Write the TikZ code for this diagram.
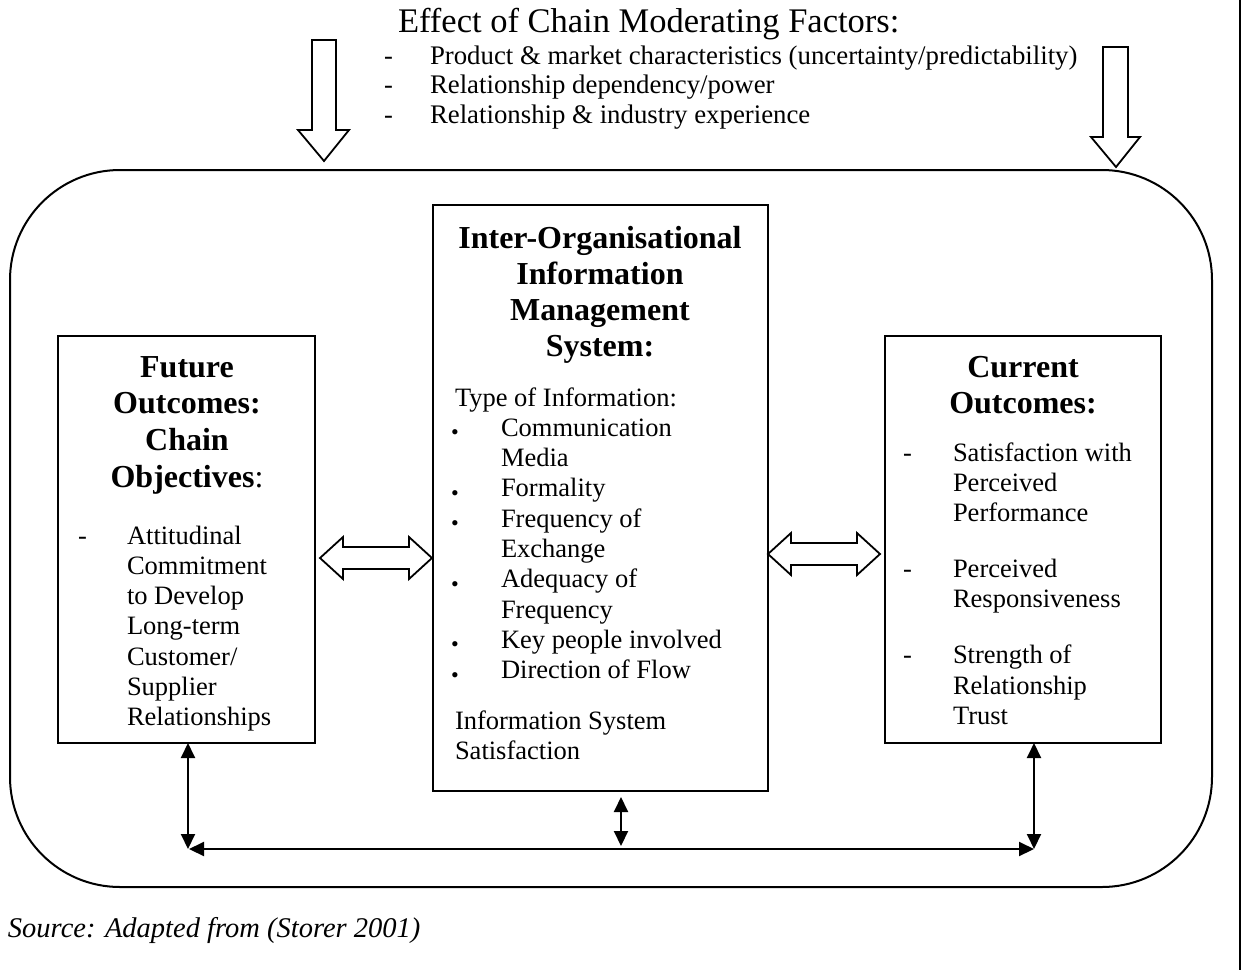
\documentclass[tikz,border=0pt]{standalone}
\usepackage{fontspec}
\setmainfont{Liberation Serif}
\usetikzlibrary{arrows.meta,calc}
\tikzset{
  box/.style={draw, line width=2pt, inner sep=0pt, outer sep=0pt},
  txt/.style={inner sep=0pt, outer sep=0pt, anchor=base west, font=\fontsize{26.5}{30}\selectfont},
  hd/.style={inner sep=0pt, outer sep=0pt, anchor=base, font=\fontsize{32}{36}\selectfont\bfseries},
  bul/.style={inner sep=0pt, outer sep=0pt, anchor=base west, font=\fontsize{22}{22}\selectfont},
  hollow/.style={draw, line width=1.8pt, fill=white, line join=miter},
  conn/.style={line width=2pt, {Triangle[length=15pt,width=14pt]}-{Triangle[length=15pt,width=14pt]}}
}
\begin{document}
\begin{tikzpicture}[x=1pt,y=-1pt]
\useasboundingbox (0,0) rectangle (1243,970);
% page frame line
\draw[line width=2.8pt] (1240,0) -- (1240,970);
% title block
\node[txt, font=\fontsize{34.5}{38}\selectfont] (title) at (398,32) {Effect of Chain Moderating Factors:};
\foreach \t [count=\i] in {{Product \& market characteristics (uncertainty/predictability)},{Relationship dependency/power},{Relationship \& industry experience}}{
  \node[txt] (td\i) at (384,{64+29.5*(\i-1)}) {-};
  \node[txt, font=\fontsize{26.8}{30}\selectfont] (tt\i) at (430,{64+29.5*(\i-1)}) {\t};
}
% outer rounded frame
\node[draw, line width=2pt, rounded corners=110pt, minimum width=1202pt, minimum height=717pt, inner sep=0pt] (frame) at (611,528.5) {};
% hollow down arrows
\draw[hollow] (312,40) -- (336,40) -- (336,130) -- (349,130) -- (324,161) -- (298,130) -- (312,130) -- cycle;
\draw[hollow] (1103,47) -- (1128,47) -- (1128,137) -- (1140,137) -- (1116,167) -- (1091,137) -- (1103,137) -- cycle;
% boxes
\node[box, minimum width=257pt, minimum height=407pt] (lbox) at (186.5,539.5) {};
\node[box, minimum width=335pt, minimum height=586pt] (cbox) at (600.5,498) {};
\node[box, minimum width=276pt, minimum height=407pt] (rbox) at (1023,539.5) {};
% left box text
\node[hd] (lh1) at (187,377) {Future};
\node[hd] (lh2) at (187,413.5) {Outcomes:};
\node[hd] (lh3) at (187,450) {Chain};
\node[hd] (lh4) at (187,487) {Objectives{\mdseries :}};
\node[txt] (ld) at (78,544) {-};
\foreach \t [count=\i] in {Attitudinal,Commitment,to Develop,Long-term,Customer/,Supplier,Relationships}{
  \node[txt] (l\i) at (127,{544+30.3*(\i-1)}) {\t};
}
% centre box text
\node[hd] (ch1) at (600,248) {Inter-Organisational};
\node[hd] (ch2) at (600,284) {Information};
\node[hd] (ch3) at (600,320) {Management};
\node[hd] (ch4) at (600,356) {System:};
\node[txt] (ct) at (455,406) {Type of Information:};
\foreach \t/\k [count=\i] in {Communication/1,Media/0,Formality/1,Frequency of/1,Exchange/0,Adequacy of/1,Frequency/0,Key people involved/1,Direction of Flow/1}{
  \node[txt] (c\i) at (501,{436+30.35*(\i-1)}) {\t};
  \ifnum\k=1 \node[bul] (b\i) at (451,{439.5+30.35*(\i-1)}) {•}; \fi
}
\node[txt] (cs1) at (455,729) {Information System};
\node[txt] (cs2) at (455,759) {Satisfaction};
% right box text
\node[hd] (rh1) at (1023,377) {Current};
\node[hd] (rh2) at (1023,413.5) {Outcomes:};
\foreach \t/\y in {Satisfaction with/461,Perceived/491,Performance/521,Perceived/577,Responsiveness/607,Strength of/663,Relationship/694,Trust/724}{
  \node[txt] (r\y) at (953,\y) {\t};
}
\node[txt] (rd1) at (903,461) {-};
\node[txt] (rd2) at (903,577) {-};
\node[txt] (rd3) at (903,663) {-};
% hollow double arrows
\draw[hollow] (320,558) -- (343,537) -- (343,547) -- (409,547) -- (409,537) -- (432,558) -- (409,579) -- (409,569) -- (343,569) -- (343,579) -- cycle;
\draw[hollow] (768,554) -- (791,533) -- (791,543) -- (857,543) -- (857,533) -- (880,554) -- (857,575) -- (857,565) -- (791,565) -- (791,575) -- cycle;
% bottom connectors
\coordinate (bl) at (189,849);
\coordinate (br) at (1034,849);
\coordinate (bm) at (621,846);
\coordinate (vl) at (188,849);
\draw[conn] (bl) -- (br);
\draw[conn] (lbox.south -| vl) -- (vl);
\draw[conn] (rbox.south -| br) -- (br);
\draw[conn] ($(cbox.south -| bm)+(0,6)$) -- (bm);
% source
\node[txt, font=\fontsize{28.5}{32}\selectfont\itshape] (src) at (8,937) {Source: Adapted from (Storer 2001)};
\end{tikzpicture}
\end{document}
